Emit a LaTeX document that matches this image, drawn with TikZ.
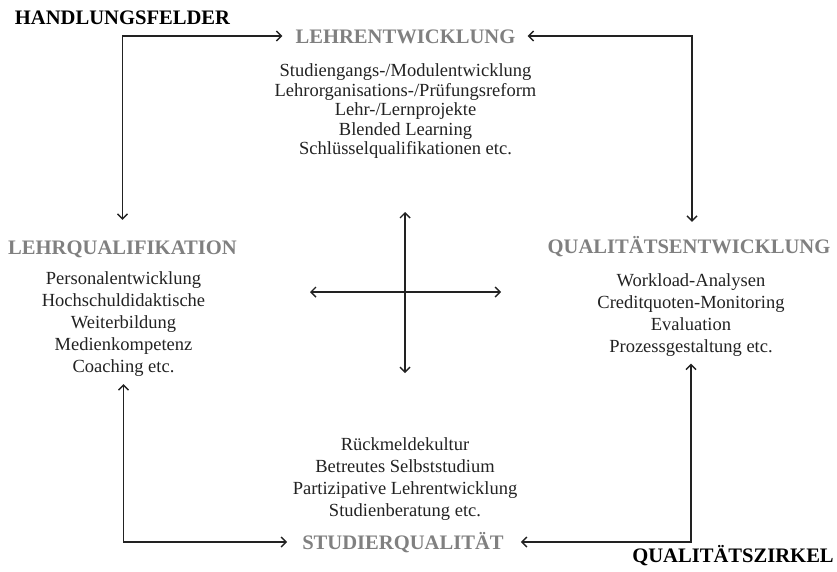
\documentclass[tikz,border=0pt]{standalone}
\usepackage{fontspec}
\setmainfont{Liberation Serif}
\usetikzlibrary{arrows.meta}
\definecolor{headgray}{HTML}{808080}
\definecolor{ink}{HTML}{222222}
\begin{document}
\begin{tikzpicture}[x=1pt,y=-1pt,
  head/.style={font=\fontsize{20.6}{24}\selectfont\bfseries, text=headgray,
               inner sep=0pt, text height=14pt, text depth=0pt},
  maintitle/.style={head, text=black},
  body/.style={font=\fontsize{18.5}{22}\selectfont, text=ink, align=center, inner sep=0pt},
  tightbody/.style={body, font=\fontsize{18.5}{19.5}\selectfont},
  barb/.tip={Straight Barb[length=5pt,width=10pt,line width=1.4pt]},
  link/.style={draw=ink, line width=1.4pt, barb-barb}
]
\useasboundingbox (0,0) rectangle (837,571);

% field titles and their contents
\node[maintitle] (felder) at (122.5,17) {HANDLUNGSFELDER};

\node[head] (lehre) at (405.5,36) {LEHRENTWICKLUNG};
\node[tightbody] (lehrebody) at (405.5,111.5) {Studiengangs-/Modulentwicklung\\
  Lehrorganisations-/Prüfungsreform\\ Lehr-/Lernprojekte\\ Blended Learning\\
  Schlüsselqualifikationen etc.};

\node[head] (lq) at (122.5,247) {LEHRQUALIFIKATION};
\node[body] (lqbody) at (123.5,324.5) {Personalentwicklung\\ Hochschuldidaktische\\
  Weiterbildung\\ Medienkompetenz\\ Coaching etc.};

\node[head] (qe) at (689,246) {QUALITÄTSENTWICKLUNG};
\node[body] (qebody) at (691,315) {Workload-Analysen\\ Creditquoten-Monitoring\\
  Evaluation\\ Prozessgestaltung etc.};

\node[body] (sqbody) at (405,479) {Rückmeldekultur\\ Betreutes Selbststudium\\
  Partizipative Lehrentwicklung\\ Studienberatung etc.};
\node[head] (sq) at (403,542) {STUDIERQUALITÄT};

\node[maintitle] (zirkel) at (733,555) {QUALITÄTSZIRKEL};

% outer cycle of connections
\draw[link, shorten <=13pt, shorten >=20pt] (lehre.west) -| (lq.north);
\draw[link, shorten <=12pt, shorten >=17pt] (lehre.east) -| ([xshift=3pt]qe.north);
\draw[link, shorten <=7pt, shorten >=15pt] (lqbody.south) |- (sq.west);
\draw[link, shorten <=7pt, shorten >=17pt] (qebody.south) |- (sq.east);

% central cross
\coordinate (hubN) at (405,212);
\coordinate (hubS) at (405,373);
\coordinate (hubW) at (310,292);
\coordinate (hubE) at (501,292);
\draw[link] (hubN) -- (hubS);
\draw[link] (hubW) -- (hubE);
\end{tikzpicture}
\end{document}
